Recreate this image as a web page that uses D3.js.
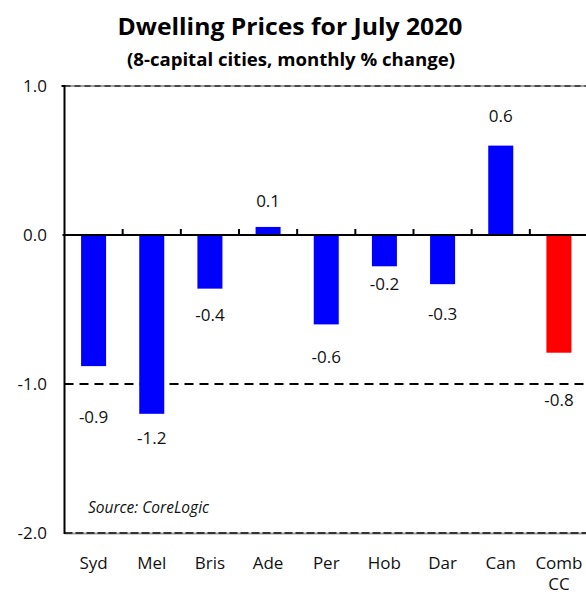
<!DOCTYPE html>
<html><head><meta charset="utf-8">
<script src="https://cdn.jsdelivr.net/npm/d3@7"></script>
<style>body{margin:0;background:#fff}svg{display:block}text{font-family:"Open Sans","Noto Sans",sans-serif}</style>
</head><body><svg id="c" width="586" height="594"></svg>
<script>
const categories = ["Syd","Mel","Bris","Ade","Per","Hob","Dar","Can","Comb\nCC"];
const values = [-0.88,-1.20,-0.36,0.054,-0.60,-0.21,-0.33,0.60,-0.79];
const valueLabels = ["-0.9","-1.2","-0.4","0.1","-0.6","-0.2","-0.3","0.6","-0.8"];
const isTotal = [false,false,false,false,false,false,false,false,true];
const yTicks = [1.0,0.0,-1.0,-2.0];
// label placement offsets (px beyond bar end), layout only
const labelGap = [51,24,26,26,33,18,30,30,47];

const svg = d3.select("#c");
const pL = 64.5, pR = 588, pT = 86, pB = 533;
const x = d3.scaleBand().domain(categories).range([pL, pR]).paddingInner(0.57).paddingOuter(0.285);
const y = d3.scaleLinear().domain([-2,1]).range([pB, pT]);

svg.append("text").attr("x",290).attr("y",35).attr("text-anchor","middle")
  .attr("font-size",24).attr("font-weight","bold").attr("textLength",345).attr("lengthAdjust","spacingAndGlyphs").text("Dwelling Prices for July 2020");
svg.append("text").attr("x",291).attr("y",66).attr("text-anchor","middle")
  .attr("font-size",18).attr("font-weight","bold").attr("textLength",328).attr("lengthAdjust","spacingAndGlyphs").text("(8-capital cities, monthly % change)");

// top border
svg.append("line").attr("x1",pL).attr("x2",pR).attr("y1",y(1)).attr("y2",y(1)).attr("stroke","#a0a0a0").attr("stroke-width",2);
svg.append("line").attr("x1",pL).attr("x2",pR).attr("y1",y(1)).attr("y2",y(1)).attr("stroke","#4a4a4a").attr("stroke-width",2).attr("stroke-dasharray","6,4");
// bottom border
svg.append("line").attr("x1",pL).attr("x2",pR).attr("y1",y(-2)+0.5).attr("y2",y(-2)+0.5).attr("stroke","#a0a0a0").attr("stroke-width",2);
svg.append("line").attr("x1",pL).attr("x2",pR).attr("y1",y(-2)).attr("y2",y(-2)).attr("stroke","#333").attr("stroke-width",2).attr("stroke-dasharray","8,3");
// -1 dashed line
svg.append("line").attr("x1",pL).attr("x2",pR).attr("y1",y(-1)).attr("y2",y(-1)).attr("stroke","#000").attr("stroke-width",2).attr("stroke-dasharray","9,6");

// bars
svg.selectAll("rect.bar").data(categories).join("rect").attr("class","bar")
  .attr("x",d=>x(d)).attr("width",x.bandwidth())
  .attr("y",(d,i)=>y(Math.max(0,values[i]))).attr("height",(d,i)=>Math.abs(y(values[i])-y(0)))
  .attr("fill",(d,i)=>isTotal[i]?"#ff0000":"#0000ff");

// zero line with ticks
const step = x.step();
svg.append("line").attr("x1",pL-2).attr("x2",pR).attr("y1",y(0)).attr("y2",y(0)).attr("stroke","#000").attr("stroke-width",2);
categories.slice(1).forEach((d)=>{
  const bx = x(d) - x.paddingInner()*step/2;
  svg.append("line").attr("x1",bx).attr("x2",bx).attr("y1",y(0)).attr("y2",y(0)-6).attr("stroke","#000").attr("stroke-width",2);
});
// left axis
svg.append("line").attr("x1",pL).attr("x2",pL).attr("y1",y(1)-1).attr("y2",y(-2)+1).attr("stroke","#000").attr("stroke-width",2);
svg.append("line").attr("x1",pL-3).attr("x2",pL).attr("y1",y(1)).attr("y2",y(1)).attr("stroke","#000").attr("stroke-width",2);

// y tick labels
svg.selectAll("text.yt").data(yTicks).join("text").attr("class","yt")
  .attr("x",47).attr("y",d=>y(d)+6).attr("text-anchor","end").attr("font-size",17).attr("fill","#111")
  .text(d=>d.toFixed(1));

// value labels
svg.selectAll("text.vl").data(categories).join("text").attr("class","vl")
  .attr("x",d=>x(d)+x.bandwidth()/2).attr("text-anchor","middle").attr("font-size",17).attr("fill","#111")
  .attr("y",(d,i)=> values[i]>=0 ? y(values[i])-labelGap[i]+6 : y(values[i])+labelGap[i]+6)
  .text((d,i)=>valueLabels[i]);

// x labels
categories.forEach((d)=>{
  const lines = d.split("\n");
  const t = svg.append("text").attr("x",x(d)+x.bandwidth()/2).attr("y",569).attr("text-anchor","middle").attr("font-size",17).attr("fill","#111");
  lines.forEach((l,j)=>t.append("tspan").attr("x",x(d)+x.bandwidth()/2).attr("dy",j?21:0).text(l));
});

svg.append("text").attr("x",88).attr("y",513).attr("font-size",15.5).attr("font-style","italic").attr("fill","#111").text("Source: CoreLogic");
</script></body></html>
